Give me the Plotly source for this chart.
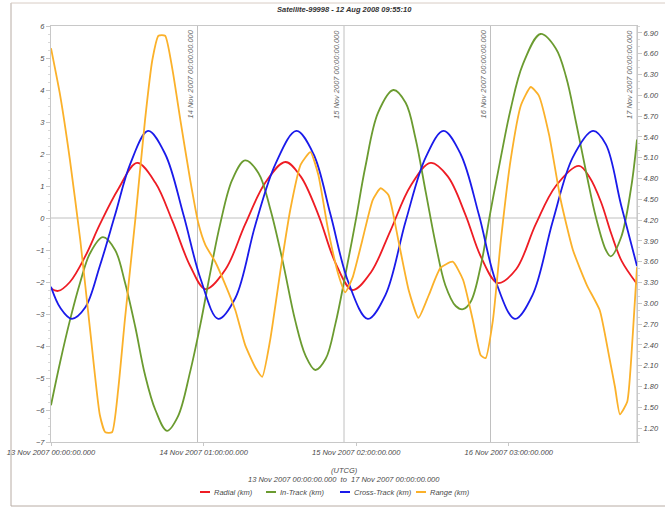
import pandas as pd
import plotly.graph_objects as go

# ---------------- data (hours since 13 Nov 2007 00:00 UTCG) ----------------
radial_h = [0, 1.15, 3.1, 5.6, 8.0, 11.0, 14.1, 17.1, 19.9, 22.8, 25.3, 28.6, 31.8, 35.1, 38.4,
            40.9, 43.8, 46.6, 49.4, 52.4, 55.6, 58.9, 62.2, 65.0, 67.9, 70.4, 73.2, 76.2, 79.4,
            82.7, 86.5, 88.3, 90.1, 91.8, 93.5, 96.0]
radial_km = [-2.2, -2.28, -2.0, -1.2, -0.2, 0.9, 1.72, 1.1, -0.1, -1.5, -2.22, -1.6, -0.2, 1.1, 1.75,
             1.3, 0.1, -1.4, -2.25, -1.7, -0.4, 1.0, 1.72, 1.3, 0.1, -1.2, -2.03, -1.6, -0.2,
             1.0, 1.63, 1.25, 0.5, -0.5, -1.35, -2.06]

intrack_h = [0, 1.5, 3.1, 4.8, 6.4, 8.5, 10.5, 12.1, 13.8, 15.4, 17.1, 19.0, 20.8, 22.8, 24.5,
             26.1, 27.7, 29.7, 31.8, 34.0, 35.9, 37.9, 40.0, 41.7, 43.3, 45.0, 46.6, 48.2, 49.9,
             51.5, 53.6, 56.1, 58.1, 59.7, 61.4, 63.0, 64.6, 66.3, 67.5, 68.8, 70.4, 72.0, 73.7,
             75.3, 77.3, 80.2, 82.7, 84.4, 86.0, 87.7, 89.3, 90.9, 91.7, 93.4, 95.0, 96.0]
intrack_km = [-5.85, -4.5, -3.2, -2.0, -1.1, -0.6, -1.0, -2.0, -3.4, -4.9, -6.0, -6.65, -6.2, -4.8, -3.3,
              -1.7, -0.2, 1.2, 1.8, 1.4, 0.3, -1.3, -3.2, -4.3, -4.75, -4.4, -3.3, -1.8, -0.1,
              1.6, 3.3, 4.0, 3.6, 2.5, 0.8, -0.8, -2.1, -2.75, -2.85, -2.6, -1.5, 0.2, 1.9,
              3.4, 4.8, 5.75, 5.3, 4.4, 3.0, 1.4, 0.0, -1.0, -1.2, -0.6, 0.9, 2.45]

cross_h = [0, 1.5, 3.4, 5.6, 8.0, 10.5, 13.0, 15.9, 18.7, 21.7, 24.5, 27.4, 30.2, 33.5, 36.8,
           40.2, 43.0, 45.8, 48.7, 51.9, 54.8, 58.1, 61.4, 64.3, 67.1, 70.1, 72.9, 76.0, 78.9,
           82.2, 85.5, 88.8, 90.9, 93.4, 96.0]
cross_km = [-2.15, -2.8, -3.15, -2.8, -1.5, 0.1, 1.7, 2.72, 2.0, 0.1, -1.9, -3.15, -2.5, -0.2, 1.7,
            2.72, 2.0, 0.1, -2.0, -3.15, -2.4, -0.1, 1.9, 2.72, 2.0, 0.1, -2.0, -3.15, -2.4,
            -0.1, 1.9, 2.72, 2.3, 0.4, -1.5]

range_h = [0, 1.5, 3.1, 4.8, 6.4, 8.0, 8.9, 10.0, 11.0, 12.1, 13.8, 15.4, 16.6, 17.6, 18.7,
           19.9, 21.2, 22.8, 24.1, 25.3, 26.9, 28.6, 30.2, 31.8, 33.5, 34.6, 35.9, 37.6, 39.2,
           40.9, 42.5, 43.8, 45.4, 47.1, 48.2, 49.4, 51.0, 52.7, 54.0, 55.3, 56.9, 58.6, 60.2,
           61.9, 63.8, 65.8, 67.5, 69.1, 70.4, 71.2, 72.4, 73.7, 75.3, 77.0, 78.6, 79.9, 81.6,
           83.5, 85.5, 87.8, 89.9, 91.4, 92.4, 93.2, 94.4, 95.3, 96.0]
range_km = [6.68, 6.0, 5.07, 3.91, 2.62, 1.39, 1.14, 1.14, 1.75, 2.76, 4.2, 5.64, 6.51, 6.86, 6.86,
            6.37, 5.64, 4.78, 4.17, 3.84, 3.6, 3.26, 2.9, 2.4, 2.07, 1.94, 2.47, 3.48, 4.35,
            5.0, 5.18, 4.85, 4.06, 3.41, 3.16, 3.37, 3.91, 4.49, 4.66, 4.56, 3.91, 3.19, 2.79,
            3.12, 3.51, 3.6, 3.34, 2.76, 2.25, 2.21, 2.76, 3.91, 5.07, 5.86, 6.12, 6.0, 5.43,
            4.49, 3.77, 3.26, 2.9, 2.25, 1.79, 1.4, 1.58, 2.54, 3.52]

left_ticks = list(range(-7, 7))
right_ticks = [1.2, 1.5, 1.8, 2.1, 2.4, 2.7, 3.0, 3.3, 3.6, 3.9, 4.2, 4.5, 4.8, 5.1, 5.4, 5.7,
               6.0, 6.3, 6.6, 6.9]
x_tick_hours = [0, 25, 50, 75]
x_tick_text = ["13 Nov 2007 00:00:00.000", "14 Nov 2007 01:00:00.000",
               "15 Nov 2007 02:00:00.000", "16 Nov 2007 03:00:00.000"]
day_line_hours = [24, 48, 72, 96]
day_line_text = ["14 Nov 2007 00:00:00.000", "15 Nov 2007 00:00:00.000",
                 "16 Nov 2007 00:00:00.000", "17 Nov 2007 00:00:00.000"]
title_text = "Satellite-99998 - 12 Aug 2008 09:55:10"
x_title_1 = "(UTCG)"
x_title_2 = "13 Nov 2007 00:00:00.000  to  17 Nov 2007 00:00:00.000"
series_names = ["Radial (km)", "In-Track (km)", "Cross-Track (km)", "Range (km)"]
colors = ["#ee1c24", "#6b9b30", "#1a1aea", "#fbb12a"]

# ---------------------------------------------------------------------------
base = pd.Timestamp("2007-11-13 00:00:00")


def t(hours):
    return [base + pd.to_timedelta(h, unit="h") for h in hours]


FONT = "Liberation Sans"
GRAY = "#4a4a4a"
PL, PR, PT, PB = 51, 637, 26, 442
PW, PH = PR - PL, PB - PT


def px(xp):
    return (xp - PL) / PW


def py(yp):
    return (PB - yp) / PH


fig = go.Figure()
fig.add_trace(go.Scatter(x=t(radial_h), y=radial_km, name=series_names[0], mode="lines",
                         line=dict(color=colors[0], width=1.8, shape="spline", smoothing=1.0)))
fig.add_trace(go.Scatter(x=t(intrack_h), y=intrack_km, name=series_names[1], mode="lines",
                         line=dict(color=colors[1], width=1.8, shape="spline", smoothing=1.0)))
fig.add_trace(go.Scatter(x=t(cross_h), y=cross_km, name=series_names[2], mode="lines",
                         line=dict(color=colors[2], width=1.8, shape="spline", smoothing=1.0)))
fig.add_trace(go.Scatter(x=t(range_h), y=range_km, name=series_names[3], mode="lines",
                         yaxis="y2",
                         line=dict(color=colors[3], width=1.8, shape="spline", smoothing=0.5)))

tickfont = dict(family=FONT, size=7.5, color=GRAY, style="italic")

fig.update_layout(
    width=665, height=508,
    margin=dict(l=PL, r=665 - PR, t=PT, b=508 - PB, autoexpand=False),
    paper_bgcolor="white", plot_bgcolor="white",
    showlegend=False,
    xaxis=dict(type="date", range=[base, base + pd.Timedelta(hours=96)], automargin=False,
               tickvals=t(x_tick_hours), ticktext=x_tick_text, tickangle=0,
               showgrid=False, zeroline=False, showline=True, linecolor="#c8c8c8",
               linewidth=1, mirror=True, ticks="outside", ticklen=3, tickcolor="#c8c8c8",
               tickfont=tickfont),
    yaxis=dict(range=[-7, 6], tickvals=left_ticks, showgrid=False, zeroline=False,
               automargin=False,
               showline=True, linecolor="#c8c8c8", linewidth=1, ticks="outside",
               ticklen=4, tickcolor="#c8c8c8", tickfont=tickfont,
               minor=dict(ticks="outside", ticklen=2, tickcolor="#d8d8d8", dtick=0.25)),
    yaxis2=dict(range=[1, 7], tickvals=right_ticks,
                ticktext=["%.2f" % v for v in right_ticks], automargin=False,
                overlaying="y", side="right", showgrid=False, zeroline=False,
                showline=True, linecolor="#c8c8c8", linewidth=1, ticks="outside",
                ticklen=4, tickcolor="#c8c8c8", tickfont=tickfont,
                minor=dict(ticks="outside", ticklen=2, tickcolor="#d8d8d8", dtick=0.1)),
)

shapes = []
# zero line
shapes.append(dict(type="line", xref="paper", yref="y", x0=0, x1=1, y0=0, y1=0,
                   line=dict(color="#c0c0c0", width=1), layer="below"))
# day lines
for h in day_line_hours:
    d = base + pd.Timedelta(hours=h)
    shapes.append(dict(type="line", xref="x", yref="paper", x0=d, x1=d, y0=0, y1=1,
                       line=dict(color="#c0c0c0", width=1), layer="below"))
# outer frame
shapes.append(dict(type="line", xref="paper", yref="paper", x0=px(11), x1=px(11),
                   y0=py(506), y1=py(3), line=dict(color="#b8aca4", width=1)))
shapes.append(dict(type="line", xref="paper", yref="paper", x0=px(11), x1=px(680),
                   y0=py(3), y1=py(3), line=dict(color="#d8ccc4", width=1)))
shapes.append(dict(type="line", xref="paper", yref="paper", x0=px(11), x1=px(680),
                   y0=py(506), y1=py(506), line=dict(color="#b8aca4", width=1)))

annotations = []
for h, txt in zip(day_line_hours, day_line_text):
    d = base + pd.Timedelta(hours=h)
    annotations.append(dict(x=d, xref="x", y=1, yref="paper", text=txt, showarrow=False,
                            textangle=-90, xanchor="right", yanchor="top", xshift=-1,
                            yshift=-2, font=dict(family=FONT, size=7.5, color="#6a6a6a",
                                                 style="italic")))
annotations.append(dict(x=0.5, xref="paper", y=py(10), yref="paper", text="<b>" + title_text + "</b>",
                        showarrow=False, xanchor="center", yanchor="middle",
                        font=dict(family=FONT, size=7.5, color="#333333", style="italic")))
annotations.append(dict(x=0.5, xref="paper", y=py(470), yref="paper", text=x_title_1,
                        showarrow=False, xanchor="center", yanchor="middle", font=tickfont))
annotations.append(dict(x=0.5, xref="paper", y=py(479), yref="paper", text=x_title_2,
                        showarrow=False, xanchor="center", yanchor="middle", font=tickfont))

# legend (manual, compact)
leg_y = py(492)
leg_line_x = [200, 266, 340, 416]
for name, col, lx in zip(series_names, colors, leg_line_x):
    shapes.append(dict(type="line", xref="paper", yref="paper",
                       x0=px(lx), x1=px(lx + 10), y0=leg_y, y1=leg_y,
                       line=dict(color=col, width=2)))
    annotations.append(dict(x=px(lx + 12), xref="paper", y=leg_y, yref="paper",
                            text=name, showarrow=False, xanchor="left", yanchor="middle",
                            font=tickfont))

fig.update_layout(shapes=shapes, annotations=annotations)
fig.write_html("out.html")
